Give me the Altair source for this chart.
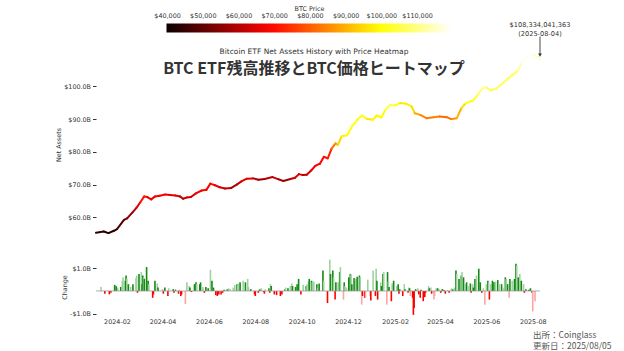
import altair as alt
import pandas as pd

# ---------------- data ----------------
line_dates = [
    "2024-01-11", "2024-01-21", "2024-01-27", "2024-02-03", "2024-02-07", "2024-02-16",
    "2024-02-20", "2024-02-27", "2024-03-03", "2024-03-08", "2024-03-13", "2024-03-17",
    "2024-03-22", "2024-03-27", "2024-04-02", "2024-04-09", "2024-04-15", "2024-04-22",
    "2024-04-28", "2024-05-02", "2024-05-07", "2024-05-12", "2024-05-19", "2024-05-26",
    "2024-06-01", "2024-06-06", "2024-06-12", "2024-06-18", "2024-06-25", "2024-07-03",
    "2024-07-10", "2024-07-16", "2024-07-23", "2024-07-31", "2024-08-07", "2024-08-15",
    "2024-08-25", "2024-09-02", "2024-09-08", "2024-09-17", "2024-09-23", "2024-09-28",
    "2024-10-03", "2024-10-08", "2024-10-14", "2024-10-19", "2024-10-25", "2024-10-30",
    "2024-11-04", "2024-11-09", "2024-11-14", "2024-11-17", "2024-11-22", "2024-11-29",
    "2024-12-05", "2024-12-12", "2024-12-18", "2024-12-24", "2025-01-01", "2025-01-06",
    "2025-01-12", "2025-01-17", "2025-01-23", "2025-01-30", "2025-02-05", "2025-02-13",
    "2025-02-20", "2025-02-24", "2025-03-03", "2025-03-11", "2025-03-20", "2025-03-28",
    "2025-04-06", "2025-04-12", "2025-04-19", "2025-04-25", "2025-05-01", "2025-05-10",
    "2025-05-16", "2025-05-22", "2025-05-27", "2025-06-01", "2025-06-08", "2025-06-16",
    "2025-06-24", "2025-07-01", "2025-07-07", "2025-07-11", "2025-07-18", "2025-07-26",
    "2025-08-01", "2025-08-04",
]
net_assets_b = [
    55.3, 55.7, 55.2, 55.9, 56.4, 59.2,
    59.7, 61.5, 62.9, 64.6, 66.4, 66.2,
    65.5, 66.4, 66.6, 67.0, 66.8, 66.7,
    66.4, 65.7, 66.1, 66.2, 67.4, 68.2,
    68.4, 70.3, 69.8, 69.2, 68.8, 69.0,
    70.0, 71.0, 71.8, 71.9, 71.5, 71.7,
    72.3, 71.6, 71.1, 71.7, 72.1, 73.2,
    72.9, 73.0, 74.4, 75.7, 76.4, 78.5,
    78.0, 81.0, 82.6, 82.1, 84.8, 85.1,
    87.7, 89.8, 91.1, 90.1, 89.8, 91.1,
    90.5, 92.8, 94.2, 94.2, 94.9, 94.7,
    93.8, 91.8, 91.3, 90.3, 90.6, 90.8,
    90.6, 90.0, 90.3, 93.4, 94.9, 95.7,
    97.4, 99.5, 99.7, 98.8, 99.2, 100.7,
    102.4, 103.8, 104.8, 107.2, 108.9, 109.8,
    108.9, 108.334,
]
btc_price = [
    46500, 41600, 42000, 43000, 44200, 52000,
    52300, 57000, 63000, 68300, 73000, 68400,
    63800, 69500, 65500, 71000, 63400, 66800,
    63100, 59100, 62900, 61500, 66900, 69300,
    67700, 71100, 68200, 65200, 61800, 60200,
    57700, 65100, 65800, 64600, 55100, 57500,
    64200, 59100, 54800, 60300, 63300, 65800,
    60600, 62100, 66000, 68400, 66600, 72300,
    67800, 76600, 87200, 89800, 98900, 97500,
    101000, 101100, 100200, 98700, 94400, 102100,
    94500, 104400, 103700, 104700, 96600, 96600,
    98300, 91500, 86200, 82900, 84200, 84300,
    78200, 85200, 85000, 94700, 96500, 103000,
    103500, 111700, 108900, 105700, 105700, 107100,
    106000, 105700, 108200, 117500, 117900, 117900,
    113300, 115000,
]

bar_dates = [
    "2024-01-11", "2024-01-16", "2024-01-22", "2024-01-24", "2024-01-29", "2024-01-31",
    "2024-02-02", "2024-02-06", "2024-02-08", "2024-02-09", "2024-02-12", "2024-02-13",
    "2024-02-14", "2024-02-16", "2024-02-19", "2024-02-22", "2024-02-26", "2024-02-27",
    "2024-02-28", "2024-03-01", "2024-03-04", "2024-03-05", "2024-03-06", "2024-03-07",
    "2024-03-08", "2024-03-11", "2024-03-13", "2024-03-14", "2024-03-19", "2024-03-20",
    "2024-03-22", "2024-03-25", "2024-03-26", "2024-04-01", "2024-04-02", "2024-04-04",
    "2024-04-08", "2024-04-09", "2024-04-15", "2024-04-16", "2024-04-18", "2024-04-22",
    "2024-04-23", "2024-04-25", "2024-04-26", "2024-05-01", "2024-05-03", "2024-05-06",
    "2024-05-07", "2024-05-09", "2024-05-13", "2024-05-15", "2024-05-16", "2024-05-20",
    "2024-05-21", "2024-05-24", "2024-05-26", "2024-05-28", "2024-05-31", "2024-06-03",
    "2024-06-05", "2024-06-07", "2024-06-10", "2024-06-12", "2024-06-14", "2024-06-17",
    "2024-06-19", "2024-06-21", "2024-06-25", "2024-06-27", "2024-06-29", "2024-07-03",
    "2024-07-05", "2024-07-08", "2024-07-09", "2024-07-10", "2024-07-12", "2024-07-16",
    "2024-07-19", "2024-07-22", "2024-07-23", "2024-07-26", "2024-07-31", "2024-08-01",
    "2024-08-05", "2024-08-06", "2024-08-07", "2024-08-09", "2024-08-12", "2024-08-13",
    "2024-08-14", "2024-08-19", "2024-08-20", "2024-08-21", "2024-08-22", "2024-08-26",
    "2024-08-29", "2024-09-03", "2024-09-05", "2024-09-09", "2024-09-10", "2024-09-13",
    "2024-09-16", "2024-09-18", "2024-09-19", "2024-09-23", "2024-09-25", "2024-09-27",
    "2024-09-30", "2024-10-03", "2024-10-07", "2024-10-08", "2024-10-10", "2024-10-11",
    "2024-10-14", "2024-10-15", "2024-10-17", "2024-10-21", "2024-10-22", "2024-10-24",
    "2024-10-29", "2024-10-30", "2024-11-04", "2024-11-07", "2024-11-08", "2024-11-11",
    "2024-11-12", "2024-11-14", "2024-11-15", "2024-11-18", "2024-11-20", "2024-11-21",
    "2024-11-25", "2024-11-26", "2024-11-27", "2024-11-29", "2024-12-02", "2024-12-04",
    "2024-12-05", "2024-12-06", "2024-12-09", "2024-12-10", "2024-12-11", "2024-12-13",
    "2024-12-16", "2024-12-17", "2024-12-19", "2024-12-20", "2024-12-23", "2024-12-24",
    "2024-12-27", "2024-12-30", "2024-12-31", "2025-01-03", "2025-01-06", "2025-01-07",
    "2025-01-08", "2025-01-09", "2025-01-13", "2025-01-14", "2025-01-16", "2025-01-17",
    "2025-01-21", "2025-01-22", "2025-01-23", "2025-01-24", "2025-01-27", "2025-01-28",
    "2025-01-30", "2025-02-03", "2025-02-05", "2025-02-06", "2025-02-07", "2025-02-11",
    "2025-02-13", "2025-02-14", "2025-02-18", "2025-02-19", "2025-02-20", "2025-02-21",
    "2025-02-24", "2025-02-25", "2025-02-26", "2025-02-28", "2025-03-03", "2025-03-04",
    "2025-03-06", "2025-03-07", "2025-03-10", "2025-03-12", "2025-03-13", "2025-03-17",
    "2025-03-18", "2025-03-20", "2025-03-21", "2025-03-24", "2025-03-25", "2025-03-27",
    "2025-03-29", "2025-03-31", "2025-04-02", "2025-04-04", "2025-04-06", "2025-04-08",
    "2025-04-11", "2025-04-13", "2025-04-16", "2025-04-18", "2025-04-20", "2025-04-22",
    "2025-04-23", "2025-04-26", "2025-04-29", "2025-04-30", "2025-05-02", "2025-05-04",
    "2025-05-06", "2025-05-08", "2025-05-11", "2025-05-12", "2025-05-14", "2025-05-15",
    "2025-05-17", "2025-05-19", "2025-05-22", "2025-05-24", "2025-05-26", "2025-05-28",
    "2025-05-30", "2025-06-01", "2025-06-03", "2025-06-04", "2025-06-05", "2025-06-07",
    "2025-06-09", "2025-06-11", "2025-06-13", "2025-06-16", "2025-06-18", "2025-06-21",
    "2025-06-23", "2025-06-26", "2025-06-27", "2025-06-29", "2025-07-01", "2025-07-02",
    "2025-07-05", "2025-07-08", "2025-07-10", "2025-07-11", "2025-07-13", "2025-07-15",
    "2025-07-17", "2025-07-20", "2025-07-21", "2025-07-23", "2025-07-27", "2025-07-29",
    "2025-07-31", "2025-08-01", "2025-08-04",
]
bar_change_b = [
    0.18, -0.12, -0.15, -0.08, 0.27, 0.21,
    0.15, 0.18, 0.45, 0.60, 0.45, 0.68,
    0.54, 0.30, 0.18, 0.30, 0.57, 0.68,
    -0.08, 0.75, 0.83, 0.30, 0.68, 0.60,
    0.53, 1.05, 0.45, 0.30, -0.30, -0.15,
    0.45, 0.33, 0.15, 0.08, -0.12, 0.15,
    -0.22, 0.12, 0.08, -0.08, 0.06, -0.12,
    0.05, -0.22, -0.15, -0.57, 0.38, 0.22,
    0.15, -0.05, 0.30, 0.38, 0.30, 0.30,
    0.38, 0.18, -0.08, 0.18, 0.12, 0.93,
    0.45, 0.15, -0.18, -0.22, -0.15, -0.15,
    -0.08, 0.05, 0.08, 0.12, 0.08, 0.15,
    0.27, 0.30, 0.27, 0.33, 0.38, 0.45,
    0.38, 0.53, 0.18, 0.08, -0.15, -0.22,
    -0.08, 0.05, 0.08, 0.12, -0.05, -0.12,
    0.06, 0.12, -0.08, 0.30, 0.22, -0.15,
    -0.18, -0.22, -0.15, 0.08, 0.15, 0.12,
    0.22, 0.33, 0.22, 0.18, 0.30, 0.53,
    -0.15, 0.27, 0.22, 0.30, 0.42, 0.53,
    0.45, 0.38, 0.42, 0.30, 0.15, 0.33,
    0.90, 0.45, -0.53, 1.38, 0.75, 0.90,
    0.60, -0.38, 0.38, 0.38, 0.83, 1.05,
    -0.38, 0.38, 0.22, 0.15, 0.60, 0.75,
    0.72, 0.30, 0.57, 0.45, 0.53, 0.63,
    0.68, 0.60, -0.60, -0.22, -0.30, -0.30,
    0.50, -0.22, -0.42, 0.90, -0.22, 0.98,
    0.45, -0.38, 0.38, 0.22, 0.75, 0.83,
    -0.60, 0.83, 0.42, 0.18, -0.45, 0.33,
    0.45, 0.22, 0.30, -0.12, 0.08, -0.22,
    0.30, 0.08, -0.08, 0.15, 0.12, -0.22,
    -0.30, -1.05, -0.75, 0.08, 0.12, -0.15,
    -0.30, 0.05, -0.45, -0.27, -0.08, 0.22,
    0.12, 0.15, -0.12, -0.38, -0.22, 0.12,
    0.12, 0.08, -0.08, 0.08, 0.05, -0.12,
    0.05, -0.08, 0.12, 0.08, 0.15, 0.90,
    0.75, 0.53, 0.68, 0.83, 0.60, 0.30,
    0.38, 0.22, 0.33, -0.08, 0.30, 0.15,
    0.53, 0.68, 0.98, 0.38, -0.08, 0.12,
    -0.60, 0.30, 0.45, 0.38, -0.38, 0.30,
    0.45, 0.38, 0.42, 0.48, 0.30, 0.30,
    0.15, 0.60, 0.53, 0.30, -0.30, 0.53,
    0.45, 0.53, 1.20, 1.13, 0.60, 0.75,
    0.45, 0.30, -0.08, 0.08, 0.05, 0.12,
    -0.08, -0.90, -0.45,
]
bar_tone = [
    "l", "d", "d", "d", "d", "d",
    "l", "d", "l", "l", "d", "d",
    "l", "d", "l", "d", "l", "l",
    "d", "d", "l", "d", "d", "l",
    "d", "d", "d", "l", "d", "d",
    "d", "l", "d", "l", "d", "d",
    "d", "l", "d", "d", "d", "d",
    "l", "d", "d", "l", "l", "l",
    "d", "d", "d", "d", "l", "d",
    "d", "l", "d", "d", "d", "l",
    "d", "d", "d", "d", "d", "d",
    "d", "d", "d", "l", "l", "l",
    "l", "d", "l", "l", "d", "l",
    "d", "l", "l", "d", "d", "d",
    "d", "l", "d", "l", "d", "d",
    "l", "d", "d", "l", "d", "d",
    "d", "d", "d", "d", "l", "d",
    "l", "l", "d", "d", "d", "d",
    "d", "l", "d", "l", "l", "d",
    "d", "l", "l", "d", "l", "d",
    "d", "l", "d", "l", "d", "d",
    "l", "d", "d", "l", "d", "l",
    "l", "d", "l", "l", "d", "d",
    "l", "d", "d", "d", "l", "d",
    "d", "l", "l", "d", "d", "l",
    "l", "l", "d", "l", "d", "l",
    "d", "d", "l", "d", "d", "l",
    "l", "d", "l", "d", "d", "l",
    "d", "l", "d", "d", "d", "d",
    "l", "d", "d", "l", "d", "l",
    "d", "d", "d", "d", "l", "d",
    "d", "d", "d", "d", "d", "l",
    "d", "l", "d", "l", "l", "l",
    "d", "l", "d", "d", "d", "d",
    "l", "d", "l", "d", "l", "d",
    "l", "d", "d", "l", "d", "l",
    "d", "l", "d", "d", "l", "d",
    "d", "l", "d", "d", "d", "l",
    "l", "l", "d", "l", "d", "l",
    "d", "d", "l", "d", "l", "d",
    "l", "d", "l", "d", "l", "d",
    "l", "d", "d", "l", "d", "l",
    "d", "l", "d", "d", "d", "d",
    "d", "l", "l",
]

ann_date = "2025-08-04"
ann_value_b = 108.334041363
ann_label = "$108,334,041,363\n(2025-08-04)"

price_ticks = [40000, 50000, 60000, 70000, 80000, 90000, 100000, 110000]
price_stops = [39700, 68800, 99200, 119500]
hot_colors = ["#0b0000", "#ff0000", "#ffff00", "#ffffff"]

asset_ticks = [60, 70, 80, 90, 100]
change_ticks = [-1, 0, 1]

# ---------------- tables ----------------
seg_df = pd.DataFrame({
    "date": line_dates[:-1],
    "date2": line_dates[1:],
    "value": net_assets_b[:-1],
    "value2": net_assets_b[1:],
    "price": [(a + b) / 2 for a, b in zip(btc_price[:-1], btc_price[1:])],
})

bar_df = pd.DataFrame({"date": bar_dates, "change": bar_change_b, "tone": bar_tone})
bar_df["cat"] = [("pos_" if v >= 0 else "neg_") + t for v, t in zip(bar_change_b, bar_tone)]

ann_df = pd.DataFrame({"date": [ann_date], "value": [ann_value_b], "label": [ann_label]})


def utc(y, m, d):
    return alt.DateTime(year=y, month=m, date=d, utc=True)


x_dom = [utc(2024, 1, 11), utc(2025, 8, 4)]
x_tick_vals = [utc(2024, m, 1) for m in (2, 4, 6, 8, 10, 12)] + [utc(2025, m, 1) for m in (2, 4, 6, 8)]
x_scale = alt.Scale(type="utc", domain=x_dom)

FONT = "DejaVu Sans"
JP = "Noto Sans CJK JP"
TXT = "#333333"
TICK_FS = 6.4
W = 444

y_top = alt.Scale(domain=[54, 110.5], zero=False, nice=False)

color_scale = alt.Scale(domain=price_stops, range=hot_colors, interpolate="rgb", clamp=True)

segs = alt.Chart(seg_df).mark_rule(strokeWidth=2, strokeCap="round").encode(
    x=alt.X("date:T", scale=x_scale, axis=None),
    x2="date2:T",
    y=alt.Y("value:Q", scale=y_top, axis=alt.Axis(
        values=asset_ticks, title="Net Assets",
        labelExpr="'$' + format(datum.value, '.1f') + 'B'",
        tickSize=3.5, tickColor=TXT, labelPadding=2, titlePadding=2.5,
        labelFont=FONT, labelFontSize=TICK_FS, labelColor=TXT,
        titleFont=FONT, titleFontSize=TICK_FS, titleFontWeight="normal", titleColor=TXT,
        domain=False, grid=False)),
    y2="value2:Q",
    color=alt.Color("price:Q", scale=color_scale, legend=alt.Legend(
        title="BTC Price", orient="none", direction="horizontal",
        legendX=70.5, legendY=-46,
        gradientLength=285, gradientThickness=9, gradientStrokeWidth=0,
        values=price_ticks, format="$,.0f", labelOverlap=False,
        labelOffset={"expr": "-19"}, labelAlign="center",
        labelFont=FONT, labelFontSize=TICK_FS, labelColor=TXT,
        titleFont=FONT, titleFontSize=TICK_FS, titleFontWeight="normal", titleColor=TXT,
        titleAnchor="middle", titlePadding=11)),
)

ann_text = alt.Chart(ann_df).mark_text(
    baseline="bottom", align="center", dy=-31.5, font=FONT, fontSize=6.6, color=TXT,
    lineBreak="\n", lineHeight=9,
).encode(x=alt.X("date:T", scale=x_scale), y=alt.Y("value:Q", scale=y_top), text="label:N")

ann_shaft = alt.Chart(ann_df).mark_rule(color=TXT, strokeWidth=0.9, yOffset=-22.5, y2Offset=-5).encode(
    x=alt.X("date:T", scale=x_scale), y=alt.Y("value:Q", scale=y_top), y2="value:Q")

ann_head = alt.Chart(ann_df).mark_point(shape="triangle-down", filled=True, size=14, color=TXT,
                                        opacity=1, yOffset=-4).encode(
    x=alt.X("date:T", scale=x_scale), y=alt.Y("value:Q", scale=y_top))

top = alt.layer(segs, ann_shaft, ann_head, ann_text).properties(
    width=W, height=185,
    title=alt.TitleParams(
        text="Bitcoin ETF Net Assets History with Price Heatmap",
        subtitle="BTC ETF残高推移とBTC価格ヒートマップ",
        anchor="middle", frame="group", offset=-71, dx=-4,
        font=FONT, fontSize=7.5, fontWeight="normal", color=TXT,
        subtitleFont=JP, subtitleFontSize=16, subtitleFontWeight="bold", subtitleColor=TXT,
        subtitlePadding=5.5),
)

y_bot = alt.Scale(domain=[-1.1, 1.45], nice=False, zero=False)

bars = alt.Chart(bar_df).mark_bar(width=1.6).encode(
    x=alt.X("date:T", scale=x_scale, axis=alt.Axis(
        values=x_tick_vals, format="%Y-%m", title=None, ticks=False, labelPadding=2,
        labelFont=FONT, labelFontSize=TICK_FS, labelColor=TXT, domain=False, grid=False,
        labelOverlap=False)),
    y=alt.Y("change:Q", scale=y_bot, axis=alt.Axis(
        values=change_ticks, title="Change",
        labelExpr="datum.value == 0 ? '$0' : (datum.value < 0 ? '-$' : '$') + format(abs(datum.value), '.1f') + 'B'",
        tickSize=3.5, tickColor=TXT, labelPadding=2, titlePadding=2.5,
        labelFont=FONT, labelFontSize=TICK_FS, labelColor=TXT,
        titleFont=FONT, titleFontSize=TICK_FS, titleFontWeight="normal", titleColor=TXT,
        domain=False, grid=False)),
    color=alt.Color("cat:N", scale=alt.Scale(
        domain=["pos_d", "pos_l", "neg_d", "neg_l"],
        range=["#138a13", "#9fd29f", "#ff0000", "#ffa3a3"]), legend=None),
)

zero_line = alt.Chart(pd.DataFrame({"y": [0]})).mark_rule(color="#999999", strokeWidth=0.8).encode(
    y=alt.Y("y:Q", scale=y_bot))

bottom = alt.layer(bars, zero_line).properties(
    width=W, height=58,
    title=alt.TitleParams(
        text=["出所：Coinglass", "更新日：2025/08/05"], orient="bottom", anchor="end", align="left",
        frame="group", dx=-7, offset=7, font=JP, fontSize=8.5, fontWeight="normal",
        color="#555555", lineHeight=10.5),
)

chart = alt.vconcat(top, bottom, spacing=21).properties(
    padding={"left": 55, "top": 6, "right": 5, "bottom": 0},
).configure(background="white").configure_view(stroke=None)

chart.save("out.html", embed_options={"renderer": "svg", "actions": False})
